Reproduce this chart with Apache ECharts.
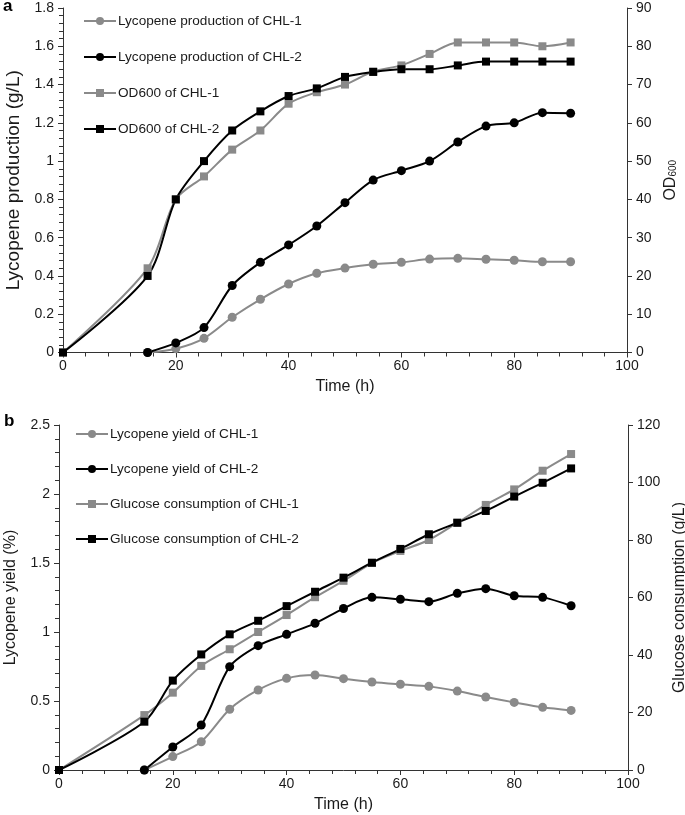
<!DOCTYPE html>
<html>
<head>
<meta charset="utf-8">
<script src="https://cdn.jsdelivr.net/npm/echarts@6/dist/echarts.min.js"></script>
<style>
html,body{margin:0;padding:0;background:#fff;}
#chart{width:685px;height:815px;}
</style>
</head>
<body>
<div id="chart"></div>
<script>
// ---- Panel a data ----
const lycTime = [15,20,25,30,35,40,45,50,55,60,65,70,75,80,85,90];
const lycCHL1 = [0,0.02,0.074,0.184,0.278,0.358,0.414,0.441,0.461,0.471,0.488,0.492,0.487,0.482,0.474,0.474];
const lycCHL2 = [0,0.05,0.13,0.35,0.471,0.562,0.661,0.783,0.901,0.95,1.0,1.10,1.183,1.20,1.253,1.25];
const odTime = [0,15,20,25,30,35,40,45,50,55,60,65,70,75,80,85,90];
const odCHL1 = [0,22,40,46,53,58,65,68,70,73.4,75,78,81,81,81,80,81];
const odCHL2 = [0,20,40,50,58,63,67,69,72,73.3,74,74,75,76,76,76,76];

// ---- Panel b data ----
const yieldTime = [15,20,25,30,35,40,45,50,55,60,65,70,75,80,85,90];
const yieldCHL1 = [0,0.097,0.205,0.44,0.58,0.664,0.688,0.662,0.638,0.621,0.606,0.572,0.529,0.49,0.454,0.432];
const yieldCHL2 = [0,0.167,0.326,0.749,0.901,0.983,1.063,1.17,1.251,1.237,1.22,1.28,1.314,1.263,1.251,1.19];
const glucTime = [0,15,20,25,30,35,40,45,50,55,60,65,70,75,80,85,90];
const glucCHL1 = [0,19.1,26.9,36.2,42.0,48.0,53.9,60.1,65.8,72,76.2,80.0,86,92.2,97.6,104.1,109.9];
const glucCHL2 = [0,16.8,31.1,40.2,47.2,51.9,57.0,62.0,66.9,72.1,76.9,82.0,86.0,90.1,95.1,99.9,104.9];

const namesA = ['Lycopene production of CHL-1','Lycopene production of CHL-2','OD600 of CHL-1','OD600 of CHL-2'];
const namesB = ['Lycopene yield of CHL-1','Lycopene yield of CHL-2','Glucose consumption of CHL-1','Glucose consumption of CHL-2'];

const GRAY = '#8a8a8a', BLACK = '#000000', AXIS = '#333333', TEXT = '#1a1a1a';
const FONT = 'Liberation Sans, Arial, sans-serif';

function pairs(xs, ys){ return xs.map((x,i)=>[x, ys[i]]); }

function mkSeries(name, xs, ys, color, symbol, xi, yi, size){
  return {
    name, type:'line', xAxisIndex:xi, yAxisIndex:yi,
    data: pairs(xs, ys), smooth:0.3,
    symbol, symbolSize:size, showAllSymbol:true,
    lineStyle:{color, width:2}, itemStyle:{color, borderWidth:0},
    emphasis:{disabled:true}, animation:false
  };
}

function xAxis(gi){
  return {
    type:'value', gridIndex:gi, min:0, max:100, interval:20,
    name:'Time (h)', nameLocation:'middle', nameGap: gi===0?26:27,
    nameTextStyle:{fontSize:16, color:TEXT, fontFamily:FONT},
    axisLine:{show:true, lineStyle:{color:AXIS, width:1}},
    axisTick:{show:true, inside:false, length:5, lineStyle:{color:AXIS}},
    minorTick:{show:true, splitNumber:5, length:4, lineStyle:{color:AXIS}},
    axisLabel:{fontSize:14, color:TEXT, fontFamily:FONT, margin:7},
    splitLine:{show:false}
  };
}
function yAxis(gi, pos, max, interval, name, nameGap, nameSize, minorSplit, rich){
  const a = {
    type:'value', gridIndex:gi, position:pos, min:0, max, interval,
    name, nameLocation:'middle', nameGap, nameRotate:90,
    nameTextStyle:{fontSize:nameSize, color:TEXT, fontFamily:FONT},
    axisLine:{show:true, onZero:false, lineStyle:{color:AXIS, width:1}},
    axisTick:{show:true, inside:false, length:5, lineStyle:{color:AXIS}},
    axisLabel:{fontSize:14, color:TEXT, fontFamily:FONT, margin:9},
    splitLine:{show:false}
  };
  if (minorSplit) a.minorTick = {show:true, splitNumber:minorSplit, length:4, lineStyle:{color:AXIS}};
  if (rich) a.nameTextStyle.rich = rich;
  return a;
}

const option = {
  backgroundColor:'#fff',
  animation:false,
  textStyle:{fontFamily:FONT},
  grid:[
    {left:63, right:58, top:8, height:344.5, outerBoundsMode:'none', containLabel:false},
    {left:59, right:57, top:425, height:345, outerBoundsMode:'none', containLabel:false}
  ],
  xAxis:[xAxis(0), xAxis(1)],
  yAxis:[
    yAxis(0,'left',1.8,0.2,'Lycopene production (g/L)',39,19,5),
    yAxis(0,'right',90,10,'OD{sub|600}',33,16,0,{sub:{fontSize:10, verticalAlign:'bottom', color:TEXT, fontFamily:FONT, padding:[6,0,0,0]}}),
    yAxis(1,'left',2.5,0.5,'Lycopene yield (%)',40,16,5),
    yAxis(1,'right',120,20,'Glucose consumption (g/L)',36,16,0)
  ],
  legend:[
    {data:namesA, orient:'vertical', left:83, top:14, padding:0, itemWidth:32, itemHeight:10, itemGap:22,
     textStyle:{fontSize:13.6, color:TEXT, fontFamily:FONT, padding:[0,0,0,-3]}, selectedMode:false},
    {data:namesB, orient:'vertical', left:75, top:427, padding:0, itemWidth:32, itemHeight:10, itemGap:21,
     textStyle:{fontSize:13.6, color:TEXT, fontFamily:FONT, padding:[0,0,0,-3]}, selectedMode:false}
  ],
  graphic:[
    {type:'text', left:3, top:-2, style:{text:'a', font:'bold 17px '+FONT, fill:'#000'}},
    {type:'text', left:4, top:413, style:{text:'b', font:'bold 17px '+FONT, fill:'#000'}}
  ],
  series:[
    mkSeries(namesA[0], lycTime, lycCHL1, GRAY, 'circle', 0, 0, 9),
    mkSeries(namesA[1], lycTime, lycCHL2, BLACK, 'circle', 0, 0, 9),
    mkSeries(namesA[2], odTime, odCHL1, GRAY, 'rect', 0, 1, 8),
    mkSeries(namesA[3], odTime, odCHL2, BLACK, 'rect', 0, 1, 8),
    mkSeries(namesB[0], yieldTime, yieldCHL1, GRAY, 'circle', 1, 2, 9),
    mkSeries(namesB[1], yieldTime, yieldCHL2, BLACK, 'circle', 1, 2, 9),
    mkSeries(namesB[2], glucTime, glucCHL1, GRAY, 'rect', 1, 3, 8),
    mkSeries(namesB[3], glucTime, glucCHL2, BLACK, 'rect', 1, 3, 8)
  ]
};
const chart = echarts.init(document.getElementById('chart'), null, {renderer:'canvas'});
chart.setOption(option);
</script>
</body>
</html>
